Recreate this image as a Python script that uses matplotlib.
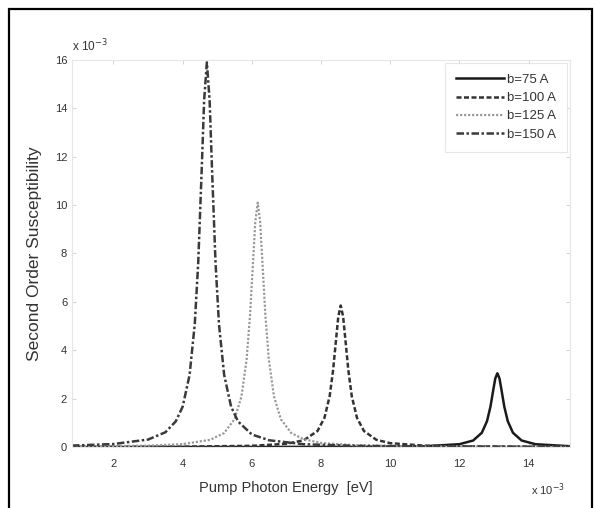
import matplotlib
matplotlib.use("Agg")
import matplotlib.pyplot as plt
from matplotlib.patches import Rectangle

plt.rcParams['font.family'] = ['Liberation Sans', 'DejaVu Sans']

# Data (x in units of 1e-3 eV, y in units of 1e-3)
x_b150 = [0.8, 2.0, 3.0, 3.5, 3.8, 4.0, 4.2, 4.35, 4.45, 4.55, 4.62, 4.70,
          4.78, 4.85, 4.95, 5.05, 5.2, 5.4, 5.6, 6.0, 6.5, 7.5, 9.0, 11.0, 15.2]
y_b150 = [0.06, 0.125, 0.31, 0.61, 1.06, 1.67, 2.98, 5.08, 7.63, 11.44, 14.31, 15.9,
          14.31, 11.44, 7.63, 5.08, 2.98, 1.67, 1.06, 0.52, 0.28, 0.116, 0.05, 0.023, 0.008]

x_b125 = [0.8, 3.0, 4.0, 4.8, 5.2, 5.5, 5.7, 5.85, 5.95, 6.03, 6.10, 6.17,
          6.24, 6.31, 6.39, 6.49, 6.64, 6.84, 7.14, 7.5, 8.0, 9.0, 11.0, 15.2]
y_b125 = [0.02, 0.058, 0.12, 0.30, 0.58, 1.15, 2.09, 3.63, 5.49, 7.54, 9.31, 10.1,
          9.31, 7.54, 5.49, 3.63, 2.09, 1.15, 0.58, 0.32, 0.17, 0.072, 0.025, 0.007]

x_b100 = [0.8, 4.0, 6.0, 7.0, 7.5, 7.9, 8.1, 8.25, 8.35, 8.43, 8.50, 8.57,
          8.64, 8.71, 8.79, 8.89, 9.04, 9.24, 9.6, 10.0, 11.0, 12.0, 15.2]
y_b100 = [0.006, 0.016, 0.05, 0.134, 0.28, 0.665, 1.21, 2.10, 3.18, 4.37, 5.39, 5.85,
          5.39, 4.37, 3.18, 2.10, 1.21, 0.665, 0.30, 0.16, 0.056, 0.028, 0.008]

x_b75 = [0.8, 6.0, 9.0, 11.0, 12.0, 12.4, 12.65, 12.8, 12.9, 12.98, 13.04, 13.10,
         13.16, 13.22, 13.3, 13.4, 13.55, 13.8, 14.2, 15.2]
y_b75 = [0.001, 0.003, 0.009, 0.033, 0.117, 0.27, 0.59, 1.07, 1.67, 2.35, 2.84, 3.05,
         2.84, 2.35, 1.67, 1.07, 0.59, 0.27, 0.117, 0.033]

labels = ['b=75 A', 'b=100 A', 'b=125 A', 'b=150 A']
x_ticks = [2, 4, 6, 8, 10, 12, 14]
y_ticks = [0, 2, 4, 6, 8, 10, 12, 14, 16]

fig = plt.figure(figsize=(5.95, 5.08), dpi=100)
ax = fig.add_axes([0.121, 0.120, 0.837, 0.762])

ax.plot(x_b75, y_b75, color='#1a1a1a', lw=1.8, ls='-', label=labels[0])
ax.plot(x_b100, y_b100, color='#333333', lw=1.8, ls=(0, (2.0, 1.0)), label=labels[1])
ax.plot(x_b125, y_b125, color='#9a9a9a', lw=1.6, ls=(0, (1.0, 0.8)), label=labels[2])
ax.plot(x_b150, y_b150, color='#3a3a3a', lw=1.8, ls=(0, (3.0, 1.0, 1.0, 1.0)), label=labels[3])

ax.set_xlim(0.8, 15.2)
ax.set_ylim(0, 16)
ax.set_xticks(x_ticks)
ax.set_yticks(y_ticks)
ax.tick_params(direction='in', length=3, width=0.6, color='#cccccc',
               labelsize=8, labelcolor='#333333', top=True, right=True)
ax.tick_params(axis='x', pad=8.5)
for s in ax.spines.values():
    s.set_color('#e6e6e6')
    s.set_linewidth(0.8)

ax.set_xlabel('Pump Photon Energy  [eV]', fontsize=10.5, color='#333333')
ax.xaxis.set_label_coords(0.43, -0.088)
ax.set_ylabel('Second Order Susceptibility', fontsize=12.5, color='#333333')
ax.yaxis.set_label_coords(-0.06, 0.5)

ax.text(0.0, 1.015, r'x 10$^{-3}$', transform=ax.transAxes, fontsize=8.5,
        color='#333333', ha='left', va='bottom')
ax.text(0.99, -0.088, r'x 10$^{-3}$', transform=ax.transAxes, fontsize=8,
        color='#333333', ha='right', va='top')

leg = ax.legend(loc='upper right', fontsize=9.5, frameon=True, fancybox=False,
                handlelength=3.6, borderpad=0.85, labelspacing=0.45,
                borderaxespad=0.2, handletextpad=0.25)
leg.get_frame().set_edgecolor('#e0e0e0')
leg.get_frame().set_linewidth(0.8)
for t in leg.get_texts():
    t.set_color('#333333')

fig.add_artist(Rectangle((9 / 595, -0.05), (592 - 9) / 595, 1.05 - 9 / 508,
                         transform=fig.transFigure, fill=False,
                         edgecolor='black', lw=1.6))

fig.savefig('out.png', dpi=100)
